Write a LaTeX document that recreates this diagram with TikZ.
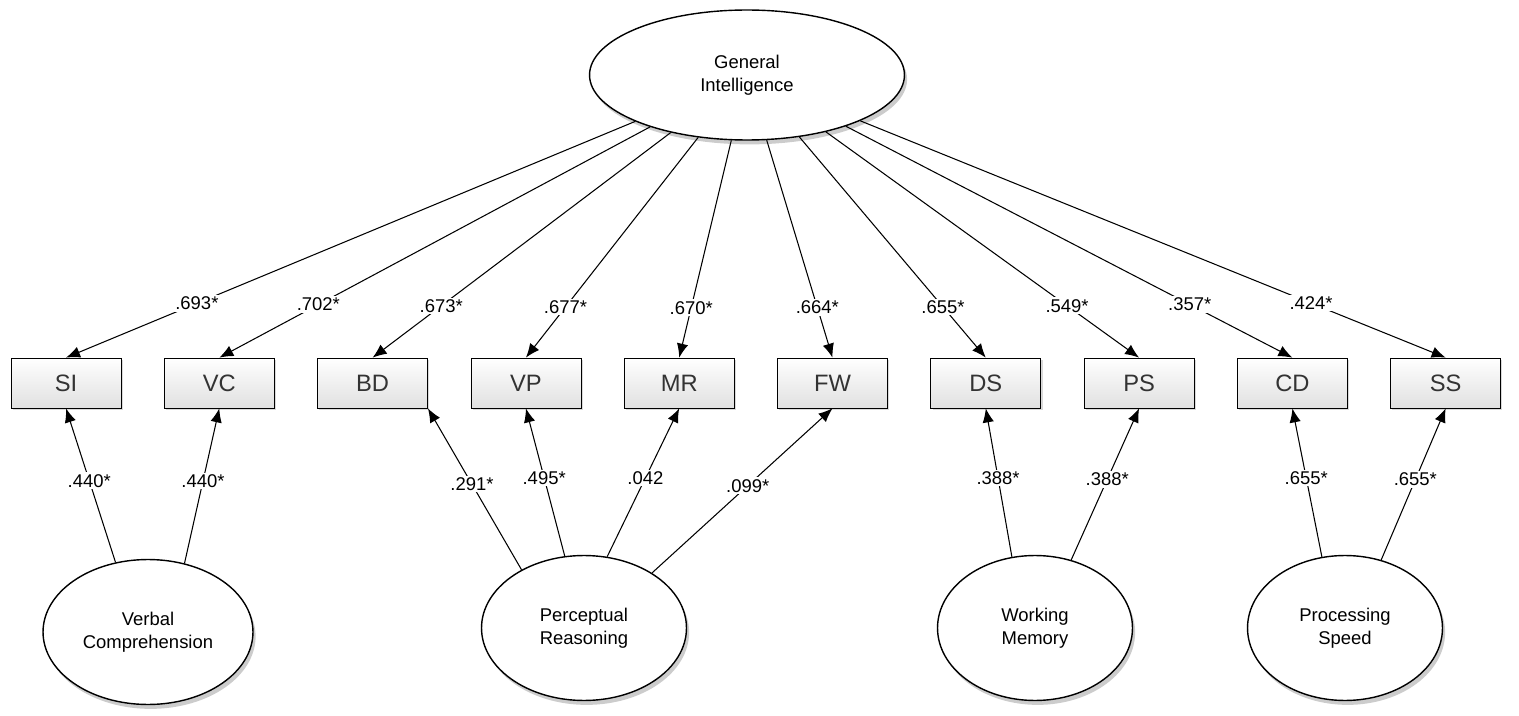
\documentclass[tikz,border=0pt]{standalone}
\usepackage{fontspec}
\setmainfont{Liberation Sans}
\usetikzlibrary{shapes.geometric,shadows,arrows.meta}

\begin{document}
\begin{tikzpicture}[x=0.02cm,y=-0.02cm,
    factor/.style={ellipse,draw,thick,fill=white,align=center,font=\fontsize{10.5}{13}\selectfont,
      drop shadow={shadow xshift=1.5pt,shadow yshift=-2.5pt,opacity=0.4}},
    subtest/.style={rectangle,draw,minimum width=2.2cm,minimum height=1cm,
      top color=white,bottom color=black!12,text=black!80,font=\fontsize{13.5}{15}\selectfont,
      drop shadow={shadow xshift=1pt,shadow yshift=-1pt,opacity=0.3}},
    load/.style={-{Latex[length=8pt,width=6.5pt]},semithick},
    coef/.style={fill=white,inner sep=1pt,font=\fontsize{10.5}{12}\selectfont}]
    \useasboundingbox (0,0) rectangle (1519,716);

    % Paso 1: Factor general
    \node[factor,minimum width=6.3cm,minimum height=2.6cm] (G) at (747,75) {General\\Intelligence};

    % Paso 2: Subtests
    \foreach \nom [count=\i from 0] in {SI,VC,BD,VP,MR,FW,DS,PS,CD,SS}
        \node[subtest] (\nom) at ({66+153.3*\i},383) {\nom};

    % Paso 3: Factores especificos
    \node[factor,minimum width=4.2cm,minimum height=2.9cm] (VCf) at (148,632) {Verbal\\Comprehension};
    \node[factor,minimum width=4.1cm,minimum height=2.9cm] (PR) at (584,628) {Perceptual\\Reasoning};
    \node[factor,minimum width=3.9cm,minimum height=2.9cm] (WM) at (1035,628) {Working\\Memory};
    \node[factor,minimum width=3.9cm,minimum height=2.9cm] (PSf) at (1345,628) {Processing\\Speed};

    % Paso 4: Cargas del factor general
    \foreach \nom/\val in {SI/.693*,VC/.702*,BD/.673*,VP/.677*,MR/.670*,
                           FW/.664*,DS/.655*,PS/.549*,CD/.357*,SS/.424*}
        \draw[load] (G) -- node[coef,pos=0.77] {\val} (\nom.north);

    % Paso 5: Cargas de los factores especificos
    \draw[load] (VCf.115) -- node[coef,pos=0.53] {.440*} (SI.south);
    \draw[load] (VCf.62) -- node[coef,pos=0.53] {.440*} (VC.south);
    \draw[load] (PR.137) -- node[coef,pos=0.53] {.291*} (BD.south east);
    \draw[load] (PR.105) -- node[coef,pos=0.53] {.495*} (VP.south);
    \draw[load] (PR.72) -- node[coef,pos=0.53] {.042} (MR.south);
    \draw[load] (PR.39) -- node[coef,pos=0.53] {.099*} (FW.south);
    \draw[load] (WM.108) -- node[coef,pos=0.53] {.388*} (DS.south);
    \draw[load] (WM.62) -- node[coef,pos=0.53] {.388*} (PS.south);
    \draw[load] (PSf.108) -- node[coef,pos=0.53] {.655*} (CD.south);
    \draw[load] (PSf.62) -- node[coef,pos=0.53] {.655*} (SS.south);
\end{tikzpicture}
\end{document}
